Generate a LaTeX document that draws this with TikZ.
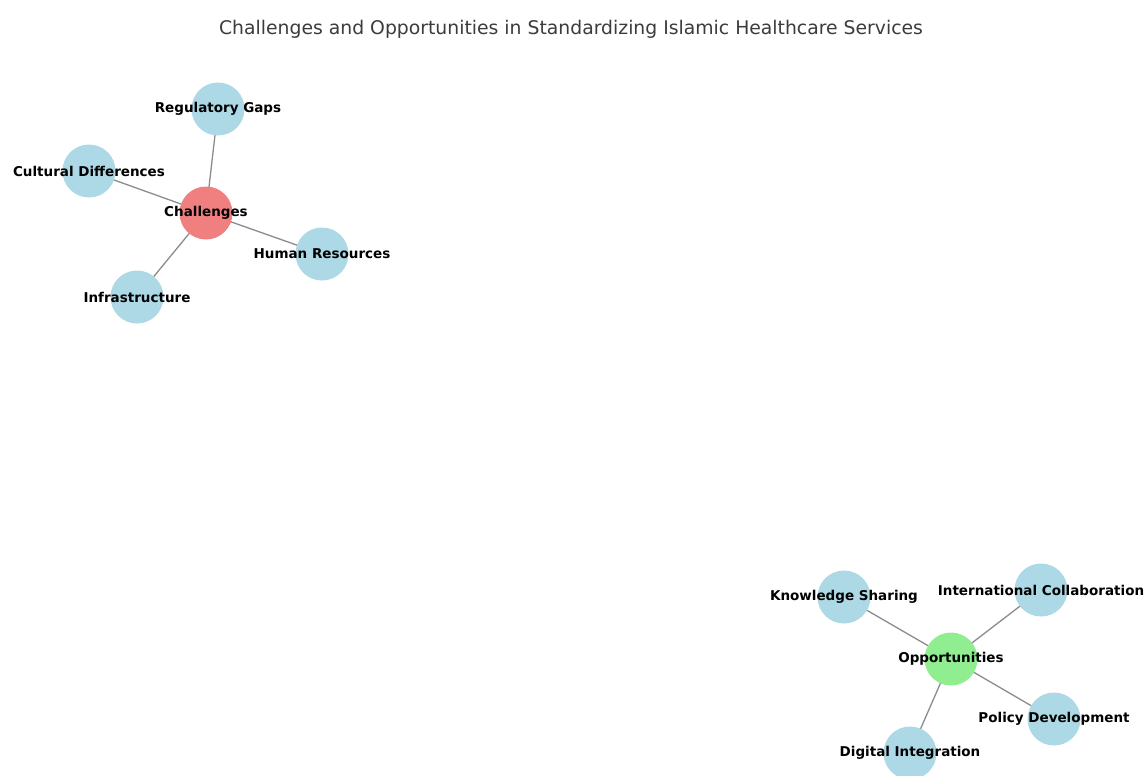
\documentclass[tikz,border=0pt]{standalone}
\usepackage{fontspec}
\setmainfont{DejaVu Sans}
\usetikzlibrary{backgrounds}
\definecolor{cblue}{HTML}{ADD8E6}
\definecolor{cred}{HTML}{F08080}
\definecolor{cgreen}{HTML}{90EE90}
\definecolor{edgegray}{HTML}{8C8C8C}
\definecolor{titlegray}{HTML}{3C3C3C}
\tikzset{
  vert/.style={circle, minimum size=53pt, inner sep=0pt, draw=none, fill=cblue},
  hub/.style={vert},
  lbl/.style={font=\fontsize{13.5}{15}\selectfont\bfseries, text=black, inner sep=0pt},
  link/.style={draw=edgegray, line width=1.3pt},
}
\begin{document}
\begin{tikzpicture}[x=1pt,y=-1pt]
\useasboundingbox (0,0) rectangle (1146,776);
\node[font=\fontsize{18.8}{22}\selectfont, text=titlegray] (title) at (571,29) {Challenges and Opportunities in Standardizing Islamic Healthcare Services};

\node[hub, fill=cred, label={[lbl]center:Challenges}] (ch) at (206,213) {};
\node[vert, label={[lbl]center:Regulatory Gaps}] (rg) at (218,109) {};
\node[vert, label={[lbl]center:Cultural Differences}] (cd) at (89,171) {};
\node[vert, label={[lbl]center:Human Resources}] (hr) at (322,254) {};
\node[vert, label={[lbl]center:Infrastructure}] (inf) at (137,297) {};

\node[hub, fill=cgreen, label={[lbl]center:Opportunities}] (op) at (951,659) {};
\node[vert, label={[lbl]center:Knowledge Sharing}] (ks) at (844,597) {};
\node[vert, label={[lbl]center:International Collaboration}] (ic) at (1041,590) {};
\node[vert, label={[lbl]center:Policy Development}] (pd) at (1054,719) {};
\node[vert, label={[lbl]center:Digital Integration}] (di) at (910,753) {};

\begin{scope}[on background layer]
\fill[white] (0,0) rectangle (1146,776);
\draw[link] (ch.center) -- (rg.center);
\draw[link] (ch.center) -- (cd.center);
\draw[link] (ch.center) -- (hr.center);
\draw[link] (ch.center) -- (inf.center);
\draw[link] (op.center) -- (ks.center);
\draw[link] (op.center) -- (ic.center);
\draw[link] (op.center) -- (pd.center);
\draw[link] (op.center) -- (di.center);
\end{scope}
\end{tikzpicture}
\end{document}
